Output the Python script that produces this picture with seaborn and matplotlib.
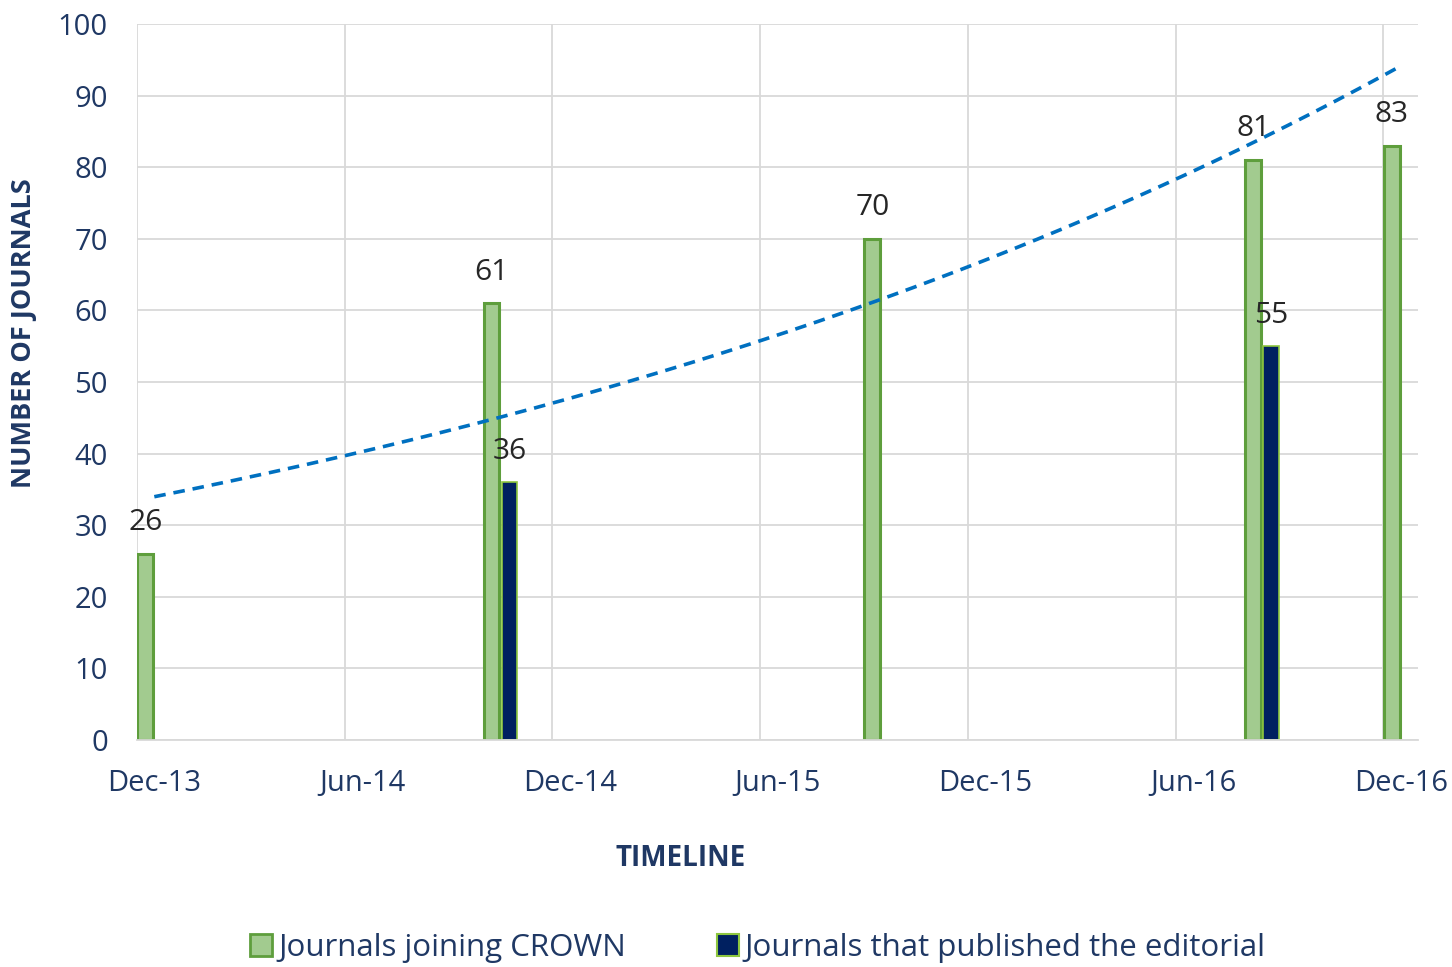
import numpy as np
import pandas as pd
import matplotlib
matplotlib.use("Agg")
import matplotlib.pyplot as plt
from matplotlib.patches import Patch
import seaborn as sns

# ---- data ----
# months since Dec-2013
join_months = [0, 10, 21, 32, 36]
join_values = [26, 61, 70, 81, 83]
edit_months = [10, 32]
edit_values = [36, 55]
tick_months = [0, 6, 12, 18, 24, 30, 36]
tick_labels = ["Dec-13", "Jun-14", "Dec-14", "Jun-15", "Dec-15", "Jun-16", "Dec-16"]
series_names = ["Journals joining CROWN", "Journals that published the editorial"]

GREEN = "#A2CB8F"
GREEN_EDGE = "#5E9E3C"
NAVY = "#002060"
NAVY_EDGE = "#8DC63F"
TEXT_NAVY = "#1F3864"
GRID = "#D9D9D9"

df = pd.concat([
    pd.DataFrame({"month": join_months, "value": join_values, "series": series_names[0]}),
    pd.DataFrame({"month": edit_months, "value": edit_values, "series": series_names[1]}),
], ignore_index=True)

sns.set_theme(style="white")
plt.rcParams["font.family"] = ["Open Sans", "DejaVu Sans"]

fig = plt.figure(figsize=(14.52, 9.67), dpi=100)
ax = fig.add_axes([137/1452, 1-740/967, (1418-137)/1452, (740-24)/967])

sns.barplot(data=df, x="month", y="value", hue="series", hue_order=series_names,
            palette=[GREEN, NAVY], native_scale=True, dodge=True,
            width=0.26, gap=0.12, ax=ax, legend=False, saturation=1)

for cont, ec in zip(ax.containers, [GREEN_EDGE, NAVY_EDGE]):
    for p in cont.patches:
        p.set_edgecolor(ec)
        p.set_linewidth(2.2 if ec == GREEN_EDGE else 1.2)
    ax.bar_label(cont, fontsize=21.5, color="#262626", padding=12)

# exponential trendline (fit of the joining series, as in the source chart)
b, a = np.polyfit(join_months, np.log(join_values), 1)
tx = np.linspace(join_months[0], join_months[-1], 200)
trend = pd.DataFrame({"month": tx, "trend": np.exp(a + b * tx)})
sns.lineplot(data=trend, x="month", y="trend", ax=ax, color="#0070C0",
             linewidth=2.6, linestyle=(0, (3.2, 2.2)), legend=False)

ax.set_xlim(-0.5, 36.5)
ax.set_ylim(0, 100)
ax.set_yticks(range(0, 101, 10))
ax.set_xticks(tick_months)
ax.set_xticklabels(tick_labels)
ax.set_xticks([m - 0.5 for m in tick_months], minor=True)
ax.grid(False)
ax.grid(True, axis="y", which="major", color=GRID, linewidth=1.3)
ax.grid(True, axis="x", which="minor", color=GRID, linewidth=1.3)
ax.set_axisbelow(True)
ax.tick_params(axis="both", which="both", length=0)
ax.tick_params(axis="y", pad=21, labelsize=21, labelcolor=TEXT_NAVY)
ax.tick_params(axis="x", pad=21, labelsize=21, labelcolor=TEXT_NAVY)
for s in ["top", "right", "left"]:
    ax.spines[s].set_visible(False)
ax.spines["bottom"].set_color(GRID)
ax.spines["bottom"].set_linewidth(1.3)
ax.set_xlabel("")
ax.set_ylabel("")

fig.text(681/1452, 1-858/967, "TIMELINE", ha="center", va="center",
         fontsize=20, fontweight="bold", color=TEXT_NAVY)
fig.text(24/1452, 1-333/967, "NUMBER OF JOURNALS", ha="center", va="center",
         rotation=90, fontsize=19.5, fontweight="bold", color=TEXT_NAVY)

handles = [Patch(facecolor=GREEN, edgecolor=GREEN_EDGE, linewidth=2),
           Patch(facecolor=NAVY, edgecolor=NAVY_EDGE, linewidth=1.5)]
fig.legend(handles, series_names, loc="center", bbox_to_anchor=(758/1452, 1-948/967),
           ncol=2, frameon=False, fontsize=22.5, labelcolor=TEXT_NAVY,
           handlelength=0.7, handleheight=0.7, handletextpad=0.2, columnspacing=2.9)

fig.savefig("out.png", dpi=100)
